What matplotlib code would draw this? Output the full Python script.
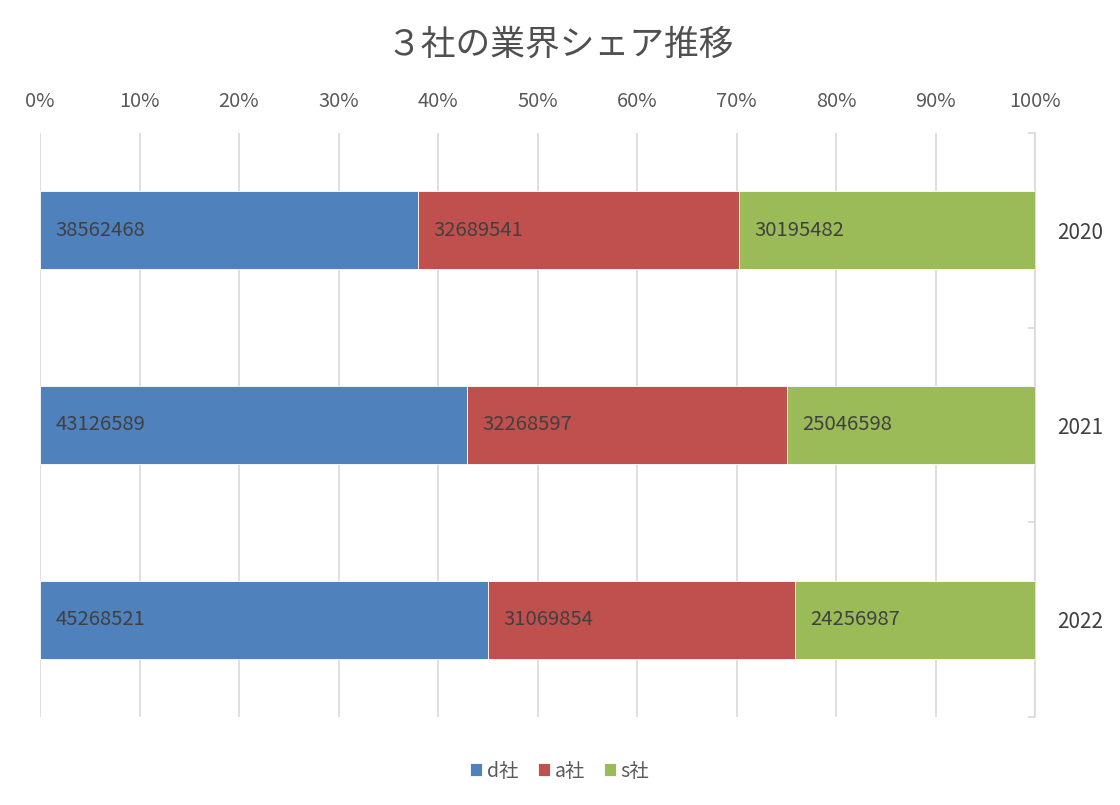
import matplotlib
matplotlib.use("Agg")
import matplotlib.pyplot as plt
from matplotlib.ticker import FixedLocator, PercentFormatter
import numpy as np

plt.rcParams['font.family'] = ['Noto Sans CJK JP', 'DejaVu Sans']

title = "３社の業界シェア推移"
years = ["2020", "2021", "2022"]
companies = ["d社", "a社", "s社"]
d_vals = [38562468, 43126589, 45268521]
a_vals = [32689541, 32268597, 31069854]
s_vals = [30195482, 25046598, 24256987]
colors = ["#4F81BD", "#C0504D", "#9BBB59"]

series = [np.array(d_vals, float), np.array(a_vals, float), np.array(s_vals, float)]
totals = sum(series)

fig = plt.figure(figsize=(11.2, 8.05), dpi=100)
ax = fig.add_axes([40/1120, 1-717/805, (1035-40)/1120, (717-133)/805])

y = np.arange(len(years))
left = np.zeros(len(years))
handles = []
for vals, name, col in zip(series, companies, colors):
    share = vals / totals
    b = ax.barh(y, share, left=left, height=0.4, color=col, edgecolor='white',
                linewidth=0.6, label=name, zorder=3)
    handles.append(b)
    for yi, l, v in zip(y, left, vals):
        ax.annotate(f"{int(v)}", xy=(l, yi), xytext=(11, 0), textcoords='offset points',
                    ha='left', va='center', fontsize=14.6, color='#404040', zorder=4)
    left = left + share

ax.set_xlim(0, 1)
ax.set_ylim(2.5, -0.5)
ax.xaxis.tick_top()
ax.set_xticks(np.linspace(0, 1, 11))
ax.xaxis.set_major_formatter(PercentFormatter(1.0, decimals=0))
ax.tick_params(axis='x', length=0, pad=15, labelsize=14.4, labelcolor='#595959')
ax.grid(axis='x', color='#d9d9d9', linewidth=1.2, zorder=0)

ax.yaxis.tick_right()
ax.set_yticks(y)
ax.set_yticklabels(years)
ax.tick_params(axis='y', which='major', length=0, pad=16, labelsize=15, labelcolor='#404040')
ax.yaxis.set_minor_locator(FixedLocator([-0.5, 0.5, 1.5, 2.5]))
ax.tick_params(axis='y', which='minor', direction='in', length=5, width=1.2, color='#d9d9d9', right=True, left=False)

for s in ['top', 'bottom', 'left']:
    ax.spines[s].set_visible(False)
ax.spines['right'].set_color('#d9d9d9')
ax.spines['right'].set_linewidth(1.2)

fig.text(560/1120, 1-45/805, title, ha='center', va='center', fontsize=25,
         color='#505050')

fig.legend(handles=handles, labels=companies, loc='center', bbox_to_anchor=(0.5, 1-771/805),
           ncol=3, frameon=False, fontsize=14, handlelength=0.6, handleheight=0.6,
           handletextpad=0.25, columnspacing=1.0, labelcolor='#595959')

fig.savefig("out.png", dpi=100)
